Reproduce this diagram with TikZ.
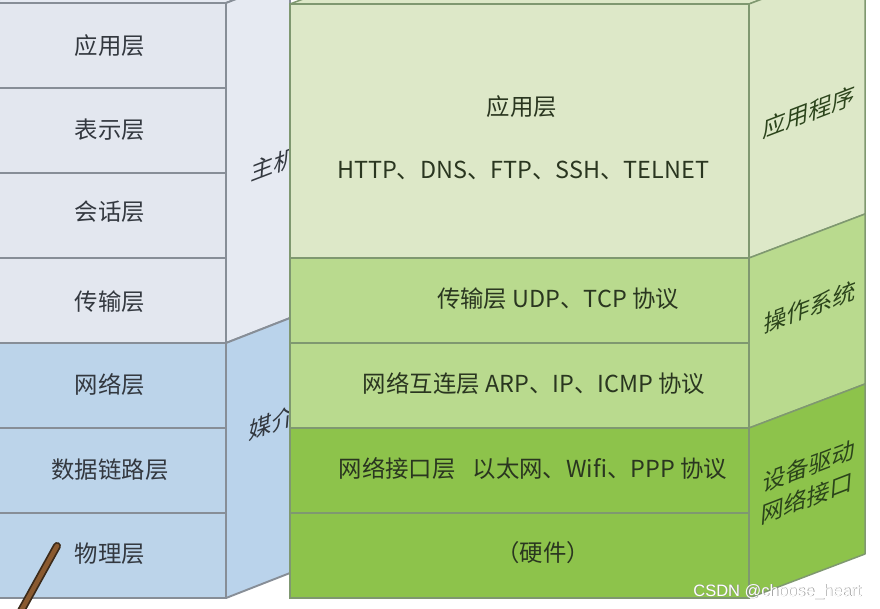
\documentclass[tikz,border=0pt]{standalone}
\usepackage{fontspec}
\newfontfamily\cjk{Noto Sans CJK SC}
\newfontfamily\wmfont{Liberation Sans}
\definecolor{gface}{HTML}{E3E7EF}
\definecolor{gside}{HTML}{E6EAF2}
\definecolor{bface}{HTML}{BCD4EA}
\definecolor{bside}{HTML}{BAD3EB}
\definecolor{lline}{HTML}{878E97}
\definecolor{gr1}{HTML}{DDE8C8}
\definecolor{gr2}{HTML}{B9DA8E}
\definecolor{gr3}{HTML}{8DC34B}
\definecolor{rline}{HTML}{7F9870}
\definecolor{ltext}{HTML}{33383F}
\definecolor{rtext}{HTML}{2A3620}
\definecolor{stext}{HTML}{2B441B}
\definecolor{wood}{HTML}{8A5A30}
\definecolor{wooddark}{HTML}{3B2A1A}
\begin{document}
\begin{tikzpicture}[x=1pt,y=-1pt,
  lrow/.style={draw=lline,line width=1.9pt,inner sep=0pt,outer sep=0pt,
    minimum width=236pt,minimum height=85pt},
  ltextstyle/.style={inner sep=0pt,font=\cjk\fontsize{23.4}{28}\selectfont,text=ltext},
  rrow/.style={draw=rline,line width=1.5pt,inner sep=0pt,outer sep=0pt,
    minimum width=459pt},
  rlabel/.style={inner sep=0pt,font=\cjk\fontsize{23.4}{28}\selectfont,text=rtext},
  sidetext/.style={inner sep=0pt,font=\cjk\fontsize{23}{31}\selectfont,
    yslant=0.385,xslant=0.08,transform shape,align=left},
  lface/.style={draw=lline,line width=1.9pt,line join=round},
  rface/.style={draw=rline,line width=1.5pt,line join=round}]
\useasboundingbox (0,0) rectangle (880,608);
\clip (0,0) rectangle (880,608);
\fill[white] (0,0) rectangle (880,608);

% ---- left stack: top and side faces
\filldraw[lface,fill=gside] (-10,3) -- (226,3) -- (290,-22) -- (54,-22) -- cycle;
\filldraw[lface,fill=gside] (226,3) -- (290,-22) -- (290,318) -- (226,343) -- cycle;
\filldraw[lface,fill=bside] (226,343) -- (290,318) -- (290,573) -- (226,598) -- cycle;
\begin{scope}[shift={(274,164)}]
  \node[sidetext,text=ltext] (zhuji) at (0,0) {主机};
\end{scope}
\begin{scope}[shift={(272,423)}]
  \node[sidetext,text=ltext] (meijie) at (0,0) {媒介};
\end{scope}

% ---- left stack: front rows
\node[lrow,fill=gface] (l7) at (108,45.5)  {};
\node[lrow,fill=gface] (l6) at (108,130.5) {};
\node[lrow,fill=gface] (l5) at (108,215.5) {};
\node[lrow,fill=gface] (l4) at (108,300.5) {};
\node[lrow,fill=bface] (l3) at (108,385.5) {};
\node[lrow,fill=bface] (l2) at (108,470.5) {};
\node[lrow,fill=bface] (l1) at (108,555.5) {};
\node[ltextstyle] (lt7) at (110,46)  {应用层};
\node[ltextstyle] (lt6) at (110,130) {表示层};
\node[ltextstyle] (lt5) at (110,212) {会话层};
\node[ltextstyle] (lt4) at (110,302) {传输层};
\node[ltextstyle] (lt3) at (110,385) {网络层};
\node[ltextstyle] (lt2) at (110,470) {数据链路层};
\node[ltextstyle] (lt1) at (110,554) {物理层};

% ---- stick
\draw[wooddark,line width=8pt,line cap=round] (57,546) -- (16,620);
\draw[wood,line width=4.5pt,line cap=round] (57,546) -- (16,620);

% ---- right stack: top and side faces
\filldraw[rface,fill=gr1] (290,4) -- (749,4) -- (865,-40) -- (406,-40) -- cycle;
\filldraw[rface,fill=gr1] (749,4) -- (865,-40) -- (865,214) -- (749,258) -- cycle;
\filldraw[rface,fill=gr2] (749,258) -- (865,214) -- (865,384) -- (749,428) -- cycle;
\filldraw[rface,fill=gr3] (749,428) -- (865,384) -- (865,554) -- (749,598) -- cycle;

% ---- right stack: front rows
\node[rrow,fill=gr1,minimum height=254pt] (r5) at (519.5,131) {};
\node[rrow,fill=gr2,minimum height=85pt] (r4) at (519.5,300.5) {};
\node[rrow,fill=gr2,minimum height=85pt] (r3) at (519.5,385.5) {};
\node[rrow,fill=gr3,minimum height=85pt] (r2) at (519.5,470.5) {};
\node[rrow,fill=gr3,minimum height=85pt] (r1) at (519.5,555.5) {};

\node[rlabel] (t5a) at (522,107) {应用层};
\node[rlabel] (t5b) at (523,170) {HTTP、DNS、FTP、SSH、TELNET};
\node[rlabel] (t4) at (558,299) {传输层 UDP、TCP 协议};
\node[rlabel] (t3) at (534,384) {网络互连层 ARP、IP、ICMP 协议};
\node[rlabel] (t2) at (533,469) {网络接口层\hspace{0.5em} 以太网、Wifi、PPP 协议};
\node[rlabel] (t1) at (543,553) {（硬件）};

% ---- right side labels
\begin{scope}[shift={(809,112)}]
  \node[sidetext,text=stext] (app) at (0,0) {应用程序};
\end{scope}
\begin{scope}[shift={(810,307)}]
  \node[sidetext,text=stext] (os) at (0,0) {操作系统};
\end{scope}
\begin{scope}[shift={(808,482)}]
  \node[sidetext,text=stext] (drv) at (0,0) {设备驱动\\网络接口};
\end{scope}

% ---- watermark
\node[font=\wmfont\fontsize{16.5}{18}\selectfont,text=black!45,anchor=base east] (wms) at (865.6,596.6) {CSDN @choose\_heart};
\node[font=\wmfont\fontsize{16.5}{18}\selectfont,text=white,anchor=base east] (wm) at (865,596) {CSDN @choose\_heart};
\end{tikzpicture}
\end{document}
